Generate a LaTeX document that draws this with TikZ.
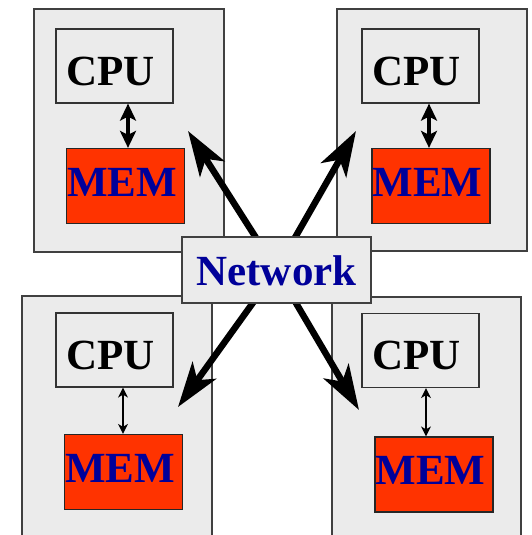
\documentclass[tikz,border=0pt]{standalone}
\usepackage{fontspec}
\setmainfont{Liberation Serif}
\usepackage{xcolor}
\usetikzlibrary{arrows.meta}

\definecolor{boxgray}{HTML}{EBEBEB}
\definecolor{memred}{HTML}{FF3300}
\definecolor{netblue}{HTML}{000099}
\pgfdeclarelayer{front}
\pgfsetlayers{main,front}

\begin{document}
\begin{tikzpicture}[x=1pt, y=-1pt,
    host/.style={draw=black!75, fill=boxgray, line width=1.2pt, inner sep=0pt, minimum width=190pt},
    cpu/.style={draw=black!80, fill=boxgray, line width=1.2pt, inner sep=0pt,
      minimum width=117pt, minimum height=74pt, font=\fontsize{43}{50}\selectfont\bfseries,
      text height=38pt, text depth=0pt},
    mem/.style={draw=black!85, fill=memred, line width=1.2pt, inner sep=0pt,
      minimum width=118pt, minimum height=75pt, text=netblue, font=\fontsize{43}{50}\selectfont\bfseries,
      text height=28pt, text depth=8pt},
    bus/.style={{Stealth[length=17pt,width=16pt,inset=4pt]}-{Stealth[length=17pt,width=16pt,inset=4pt]}, line width=3.2pt},
    thinbus/.style={{Stealth[length=10pt,width=10pt,inset=3pt]}-{Stealth[length=10pt,width=10pt,inset=3pt]}, line width=1.3pt},
    link/.style={-{Stealth[length=45pt,width=29pt,inset=12pt]}, line width=6.5pt}
  ]
  \useasboundingbox (0,0) rectangle (531,535);

  % Upper left machine
  \node[host, minimum height=243pt] (hostA) at (129,130.5) {};
  \node[cpu] (cpuA) at (114.5,66) {CPU\kern8pt};
  \node[mem] (memA) at (125.5,186) {MEM\kern7pt};
  \draw[bus] (cpuA.south -| 128,0) -- (memA.north -| 128,0);

  % Upper right machine
  \node[host, minimum height=242pt] (hostB) at (432,130) {};
  \node[cpu] (cpuB) at (420.5,66) {CPU\kern8pt};
  \node[mem] (memB) at (431,186) {MEM\kern7pt};
  \draw[bus] (cpuB.south -| 429,0) -- (memB.north -| 429,0);

  % Lower left machine
  \node[host, minimum height=264pt] (hostC) at (117,428) {};
  \node[cpu] (cpuC) at (114.5,350) {CPU\kern8pt};
  \node[mem] (memC) at (123.5,472) {MEM\kern7pt};
  \draw[thinbus] (cpuC.south -| 123,0) -- (memC.north -| 123,0);

  % Lower right machine
  \node[host, minimum width=189pt, minimum height=263pt] (hostD) at (426.5,428.5) {};
  \node[cpu] (cpuD) at (420.5,350.5) {CPU\kern8pt};
  \node[mem] (memD) at (434,474.5) {MEM\kern7pt};
  \draw[thinbus] (cpuD.south -| 426,0) -- (memD.north -| 426,0);

  % Network
  \begin{pgfonlayer}{front}
    \node[draw=black!75, fill=boxgray, line width=1.2pt, inner sep=0pt,
      minimum width=189pt, minimum height=66pt, text=netblue,
      font=\fontsize{43}{50}\selectfont\bfseries, text height=31pt, text depth=0pt]
      (net) at (276.5,270) {Network};
  \end{pgfonlayer}
  \coordinate (tipA) at (188,131);
  \coordinate (tipB) at (356,131);
  \coordinate (tipC) at (178,407);
  \coordinate (tipD) at (359,410);
  \draw[link] (net.center) -- (tipA);
  \draw[link] (net.center) -- (tipB);
  \draw[link] (net.center) -- (tipC);
  \draw[link] (net.center) -- (tipD);
\end{tikzpicture}
\end{document}
